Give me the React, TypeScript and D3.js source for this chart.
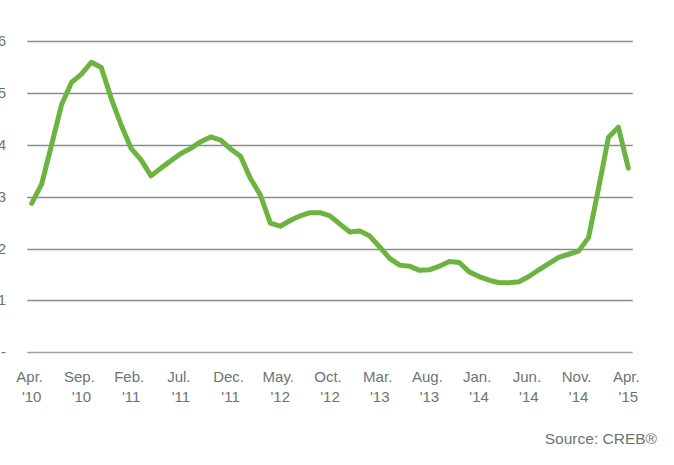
import React from "react";
import * as d3 from "d3";

const values2010 = [2.87, 3.24, 4.0, 4.77, 5.2, 5.36, 5.59, 5.49, 4.89];
const values2011 = [4.38, 3.93, 3.71, 3.4, 3.55, 3.69, 3.83, 3.93, 4.06, 4.15, 4.09, 3.92];
const values2012 = [3.78, 3.35, 3.03, 2.49, 2.43, 2.54, 2.63, 2.69, 2.69, 2.63, 2.47, 2.32];
const values2013 = [2.34, 2.24, 2.03, 1.81, 1.68, 1.66, 1.58, 1.59, 1.66, 1.75, 1.73, 1.55];
const values2014 = [1.46, 1.39, 1.34, 1.34, 1.36, 1.46, 1.59, 1.71, 1.83, 1.89, 1.95, 2.21];
const values2015 = [3.15, 4.14, 4.34, 3.55];
const values = [...values2010, ...values2011, ...values2012, ...values2013, ...values2014, ...values2015];

const tickIndices = [0, 5, 10, 15, 20, 25, 30, 35, 40, 45, 50, 55, 60];
const tickTop = ["Apr.", "Sep.", "Feb.", "Jul.", "Dec.", "May.", "Oct.", "Mar.", "Aug.", "Jan.", "Jun.", "Nov.", "Apr."];
const tickBottom = ["'10", "'10", "'11", "'11", "'11", "'12", "'12", "'13", "'13", "'14", "'14", "'14", "'15"];
const yTicks = [0, 1, 2, 3, 4, 5, 6];
const yTickLabels = ["-", "1", "2", "3", "4", "5", "6"];
const source = "Source: CREB®";

export default function App() {
  const W = 674, H = 465;
  const x = d3.scaleLinear().domain([0, 60]).range([31.7, 628.3]);
  const y = d3.scaleLinear().domain([0, 6]).range([352.3, 41]);
  const line = d3.line<number>().x((_, i) => x(i)).y((d) => y(d)).curve(d3.curveLinear);
  const font = "Arial, 'Liberation Sans', sans-serif";
  const textColor = "#6b7572";
  return (
    <svg width={W} height={H} style={{ position: "absolute", left: 0, top: 0, background: "#fff" }} fontFamily={font}>
      {yTicks.map((t, i) => (
        <g key={t}>
          <line x1={27.3} x2={632.7} y1={Math.round(y(t)) + 0.5} y2={Math.round(y(t)) + 0.5}
            stroke={t === 0 ? "#9ea3a2" : "#858e8b"} strokeWidth={1.3} />
          <text x={6} y={y(t) + 5} textAnchor="end" fontSize={15} fill={textColor}>{yTickLabels[i]}</text>
        </g>
      ))}
      <path d={line(values) || ""} fill="none" stroke="#6cb33f" strokeWidth={5} strokeLinejoin="round" strokeLinecap="round" />
      {tickIndices.map((ti, i) => (
        <g key={ti} transform={`translate(${x(ti)},0)`}>
          <text x={-2} y={381.5} textAnchor="middle" fontSize={15} fill={textColor}>{tickTop[i]}</text>
          <text x={0} y={401.7} textAnchor="middle" fontSize={15} fill={textColor}>{tickBottom[i]}</text>
        </g>
      ))}
      <text x={657} y={443.5} textAnchor="end" fontSize={15.5} fill={textColor}>{source}</text>
    </svg>
  );
}
